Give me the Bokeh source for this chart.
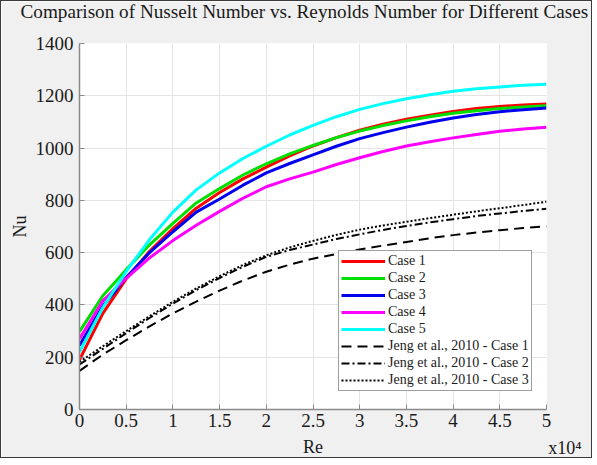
from bokeh.plotting import figure
from bokeh.models import FixedTicker, Legend, LegendItem, Range1d, Title
from bokeh.embed import file_html
from bokeh.resources import INLINE

# Reynolds number (x 10^4)
re_x = [0, 0.25, 0.5, 0.75, 1, 1.25, 1.5, 1.75, 2, 2.25, 2.5, 2.75, 3,
        3.25, 3.5, 3.75, 4, 4.25, 4.5, 4.75, 5]

case1 = [190, 368, 500, 605, 692, 770, 830, 882, 927, 970, 1008, 1040, 1068,
         1091, 1110, 1126, 1140, 1151, 1159, 1165, 1169]
case2 = [298, 435, 535, 630, 712, 790, 845, 897, 940, 978, 1010, 1040, 1065,
         1086, 1104, 1120, 1133, 1143, 1151, 1157, 1162]
case3 = [245, 396, 505, 600, 680, 755, 805, 858, 905, 941, 974, 1007, 1036,
         1059, 1080, 1099, 1115, 1128, 1139, 1147, 1153]
case4 = [270, 416, 502, 580, 646, 705, 758, 808, 852, 882, 908, 937, 963,
         987, 1008, 1024, 1039, 1052, 1064, 1073, 1080]
case5 = [220, 390, 528, 650, 755, 840, 905, 960, 1007, 1050, 1087, 1120, 1148,
         1170, 1189, 1204, 1217, 1227, 1234, 1240, 1244]
jeng1 = [148, 210, 265, 318, 368, 413, 455, 493, 527, 554, 577, 595, 612,
         627, 641, 655, 667, 677, 686, 694, 701]
jeng2 = [172, 232, 292, 350, 405, 457, 503, 546, 584, 610, 631, 652, 670,
         687, 702, 716, 728, 740, 750, 759, 768]
jeng3 = [182, 242, 300, 357, 412, 463, 510, 553, 590, 620, 645, 668, 688,
         704, 718, 732, 745, 758, 770, 782, 795]

series_names = ["Case 1", "Case 2", "Case 3", "Case 4", "Case 5",
                "Jeng et al., 2010 - Case 1", "Jeng et al., 2010 - Case 2",
                "Jeng et al., 2010 - Case 3"]

x_ticks = [0, 0.5, 1, 1.5, 2, 2.5, 3, 3.5, 4, 4.5, 5]
x_tick_labels = ["0", "0.5", "1", "1.5", "2", "2.5", "3", "3.5", "4", "4.5", "5"]
y_ticks = [0, 200, 400, 600, 800, 1000, 1200, 1400]

title_text = "Comparison of Nusselt Number vs. Reynolds Number for Different Cases"
x_label = "Re"
y_label = "Nu"
x_scale_note = "x10\u2074"
FONT = "Liberation Serif"
TXT = "#1a1a1a"

p = figure(width=592, height=458, output_backend="svg", toolbar_location=None,
           x_range=Range1d(0, 5), y_range=Range1d(0, 1400),
           min_border_left=78, min_border_right=47, min_border_top=30,
           min_border_bottom=44)
p.styles = {"border": "1px solid #3a3a3a"}
p.border_fill_color = "#f0f0f0"
p.background_fill_color = "white"
p.outline_line_color = None

# main title (outer panel)
p.title.text = title_text
p.title.align = "left"
p.title.offset = -59
p.title.standoff = -6
p.title.text_font = FONT
p.title.text_font_size = "19.2px"
p.title.text_font_style = "normal"
p.title.text_color = TXT

# spacer panel between frame and title
p.add_layout(Title(text=" ", standoff=2, text_font=FONT, text_font_size="19px"), "above")

for ax in (p.xaxis[0], p.yaxis[0]):
    ax.axis_line_color = "#8a8a8a"
    ax.axis_line_width = 1.5
    ax.major_tick_line_color = "#8a8a8a"
    ax.major_tick_in = 5
    ax.major_tick_out = 0
    ax.minor_tick_line_color = None
    ax.major_label_text_font = FONT
    ax.major_label_text_font_size = "19px"
    ax.major_label_text_color = TXT
    ax.axis_label_text_font = FONT
    ax.axis_label_text_font_size = "18px"
    ax.axis_label_text_font_style = "normal"
    ax.axis_label_text_color = TXT

p.xaxis[0].ticker = FixedTicker(ticks=x_ticks)
p.xaxis[0].major_label_overrides = {t: s for t, s in zip(x_ticks, x_tick_labels)}
p.xaxis[0].major_label_standoff = 4
p.xaxis[0].axis_label = x_label
p.xaxis[0].axis_label_standoff = 7
p.yaxis[0].ticker = FixedTicker(ticks=y_ticks)
p.yaxis[0].major_label_standoff = 6
p.yaxis[0].axis_label = y_label
p.yaxis[0].axis_label_standoff = 3

p.add_layout(Title(text=x_scale_note, align="right", offset=-35, standoff=-44,
                   vertical_align="top",
                   text_font=FONT, text_font_size="18px", text_font_style="normal",
                   text_color=TXT), "below")

p.xgrid.grid_line_color = "#e4e4e4"
p.ygrid.grid_line_color = "#e4e4e4"
p.xgrid.ticker = FixedTicker(ticks=x_ticks)
p.ygrid.ticker = FixedTicker(ticks=y_ticks)

renderers = []
renderers.append(p.line(re_x, case1, line_color="#ff0000", line_width=3))
renderers.append(p.line(re_x, case2, line_color="#00e000", line_width=3))
renderers.append(p.line(re_x, case3, line_color="#0000ee", line_width=3))
renderers.append(p.line(re_x, case4, line_color="#ff00ff", line_width=3))
renderers.append(p.line(re_x, case5, line_color="#00ffff", line_width=3))
renderers.append(p.line(re_x, jeng1, line_color="black", line_width=2, line_dash="10 6"))
renderers.append(p.line(re_x, jeng2, line_color="black", line_width=2, line_dash="8 3 2 3"))
renderers.append(p.line(re_x, jeng3, line_color="black", line_width=2, line_dash="2 2"))

legend = Legend(items=[LegendItem(label=n, renderers=[r]) for n, r in zip(series_names, renderers)],
                location=(259, 18), orientation="vertical")
legend.label_text_font = FONT
legend.label_text_font_size = "14px"
legend.label_text_color = TXT
legend.glyph_width = 44
legend.glyph_height = 16
legend.label_height = 16
legend.label_standoff = 3
legend.spacing = 1
legend.padding = 2
legend.margin = 0
legend.border_line_color = "#404040"
legend.border_line_width = 1
legend.background_fill_color = "white"
legend.background_fill_alpha = 1.0
p.add_layout(legend, "center")

open("out.html", "w").write(file_html(p, INLINE))
